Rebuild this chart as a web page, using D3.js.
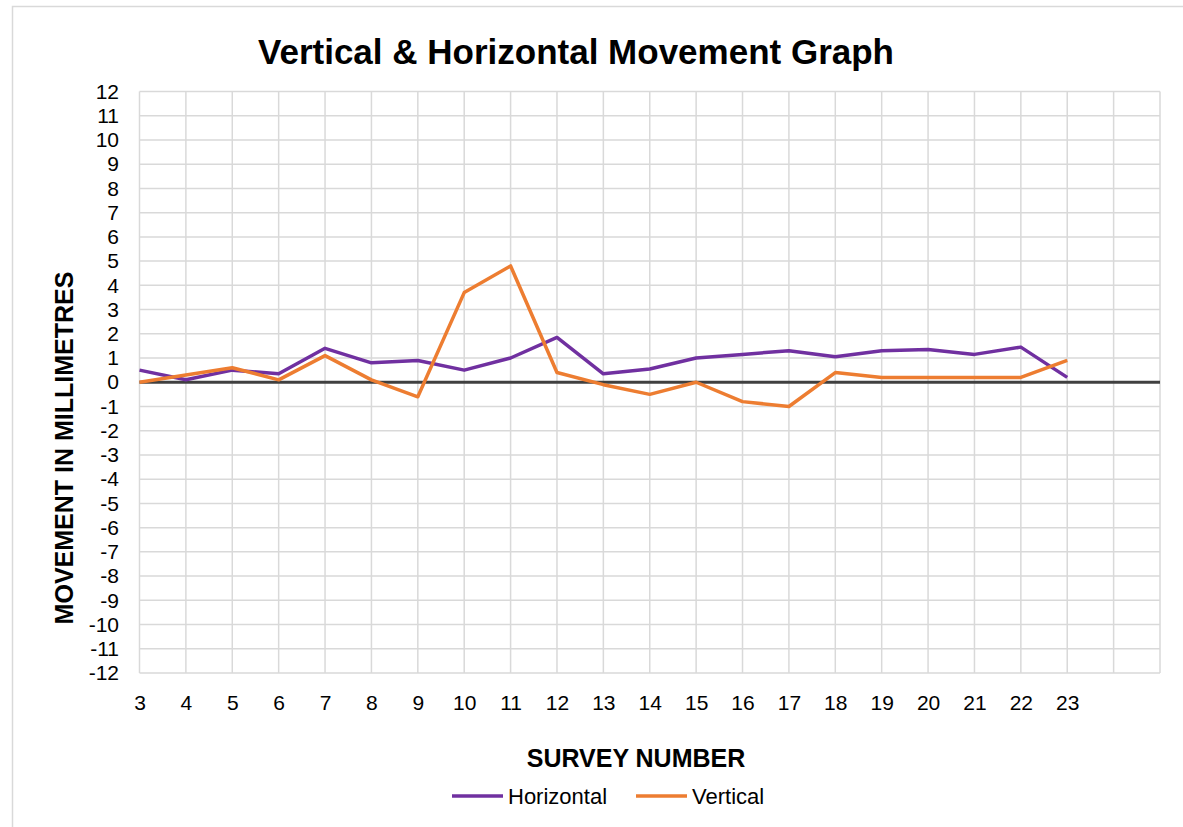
<!DOCTYPE html>
<html>
<head>
<meta charset="utf-8">
<title>Vertical & Horizontal Movement Graph</title>
<script src="https://d3js.org/d3.v7.min.js"></script>
<style>
  body { margin: 0; background: #fff; }
  text { font-family: "Liberation Sans", Arial, sans-serif; fill: #000; }
</style>
</head>
<body>
<script>
  var surveys = [3, 4, 5, 6, 7, 8, 9, 10, 11, 12, 13, 14, 15, 16, 17, 18, 19, 20, 21, 22, 23];
  var horizontal = [0.5, 0.1, 0.5, 0.35, 1.4, 0.8, 0.9, 0.5, 1.0, 1.85, 0.35, 0.55, 1.0, 1.15, 1.3, 1.05, 1.3, 1.35, 1.15, 1.45, 0.2];
  var vertical = [0.0, 0.3, 0.6, 0.1, 1.1, 0.1, -0.6, 3.7, 4.8, 0.4, -0.1, -0.5, 0.0, -0.8, -1.0, 0.4, 0.2, 0.2, 0.2, 0.2, 0.9];
  var yTicks = d3.range(-12, 13);
  var xTicks = d3.range(3, 26);

  var width = 1183, height = 827;
  var plotLeft = 139.5, plotRight = 1160, plotTop = 91.5, plotBottom = 673;

  var svg = d3.select("body").append("svg").attr("width", width).attr("height", height);

  // outer chart border (runs off right/bottom edge)
  svg.append("rect")
    .attr("x", 12.5).attr("y", 6.5)
    .attr("width", 1300).attr("height", 1000)
    .attr("fill", "none").attr("stroke", "#d9d9d9").attr("stroke-width", 1.5);

  var x = d3.scaleLinear().domain([3, 25]).range([plotLeft, plotRight]);
  var y = d3.scaleLinear().domain([-12, 12]).range([plotBottom, plotTop]);

  // grid
  svg.append("g").selectAll("line").data(yTicks).enter().append("line")
    .attr("x1", plotLeft).attr("x2", plotRight)
    .attr("y1", function(d) { return y(d); }).attr("y2", function(d) { return y(d); })
    .attr("stroke", "#d9d9d9").attr("stroke-width", 1.5);
  svg.append("g").selectAll("line").data(xTicks).enter().append("line")
    .attr("y1", plotTop).attr("y2", plotBottom)
    .attr("x1", function(d) { return x(d); }).attr("x2", function(d) { return x(d); })
    .attr("stroke", "#d9d9d9").attr("stroke-width", 1.5);

  // y axis labels (plain hyphen for negatives)
  var axisY = d3.axisLeft(y).tickValues(yTicks).tickSize(0).tickPadding(20)
    .tickFormat(function(d) { return String(d); });
  var gy = svg.append("g").attr("transform", "translate(" + plotLeft + ",0)").call(axisY);
  gy.select(".domain").remove();
  gy.selectAll("text").style("font-size", "21px").attr("x", -20.5);

  // x axis labels (only survey numbers with data)
  var axisX = d3.axisBottom(x).tickValues(surveys).tickSize(0).tickPadding(22)
    .tickFormat(function(d) { return String(d); });
  var gx = svg.append("g").attr("transform", "translate(0," + plotBottom + ")").call(axisX);
  gx.select(".domain").remove();
  gx.selectAll("text").style("font-size", "21px");

  // zero line
  svg.append("line")
    .attr("x1", plotLeft).attr("x2", plotRight)
    .attr("y1", y(0)).attr("y2", y(0))
    .attr("stroke", "#404040").attr("stroke-width", 3);

  var line = d3.line()
    .x(function(d) { return x(d[0]); })
    .y(function(d) { return y(d[1]); });

  svg.append("path")
    .datum(d3.zip(surveys, horizontal))
    .attr("d", line).attr("fill", "none")
    .attr("stroke", "#7030a0").attr("stroke-width", 3.5).attr("stroke-linejoin", "round");
  svg.append("path")
    .datum(d3.zip(surveys, vertical))
    .attr("d", line).attr("fill", "none")
    .attr("stroke", "#ed7d31").attr("stroke-width", 3.5).attr("stroke-linejoin", "round");

  // titles
  svg.append("text").attr("x", 576).attr("y", 64)
    .attr("text-anchor", "middle")
    .style("font-size", "35px").style("font-weight", "bold")
    .text("Vertical & Horizontal Movement Graph");

  svg.append("text").attr("x", 636).attr("y", 767)
    .attr("text-anchor", "middle")
    .style("font-size", "25px").style("font-weight", "bold")
    .text("SURVEY NUMBER");

  svg.append("text")
    .attr("transform", "translate(73,448) rotate(-90)")
    .attr("text-anchor", "middle")
    .style("font-size", "25px").style("font-weight", "bold")
    .text("MOVEMENT IN MILLIMETRES");

  // legend
  var legend = [
    { name: "Horizontal", color: "#7030a0", x: 452 },
    { name: "Vertical", color: "#ed7d31", x: 636 }
  ];
  var lg = svg.append("g").selectAll("g").data(legend).enter().append("g");
  lg.append("line")
    .attr("x1", function(d) { return d.x; }).attr("x2", function(d) { return d.x + 51; })
    .attr("y1", 796).attr("y2", 796)
    .attr("stroke", function(d) { return d.color; }).attr("stroke-width", 3.5);
  lg.append("text")
    .attr("x", function(d) { return d.x + 56; }).attr("y", 804)
    .style("font-size", "22px")
    .text(function(d) { return d.name; });
</script>
</body>
</html>
